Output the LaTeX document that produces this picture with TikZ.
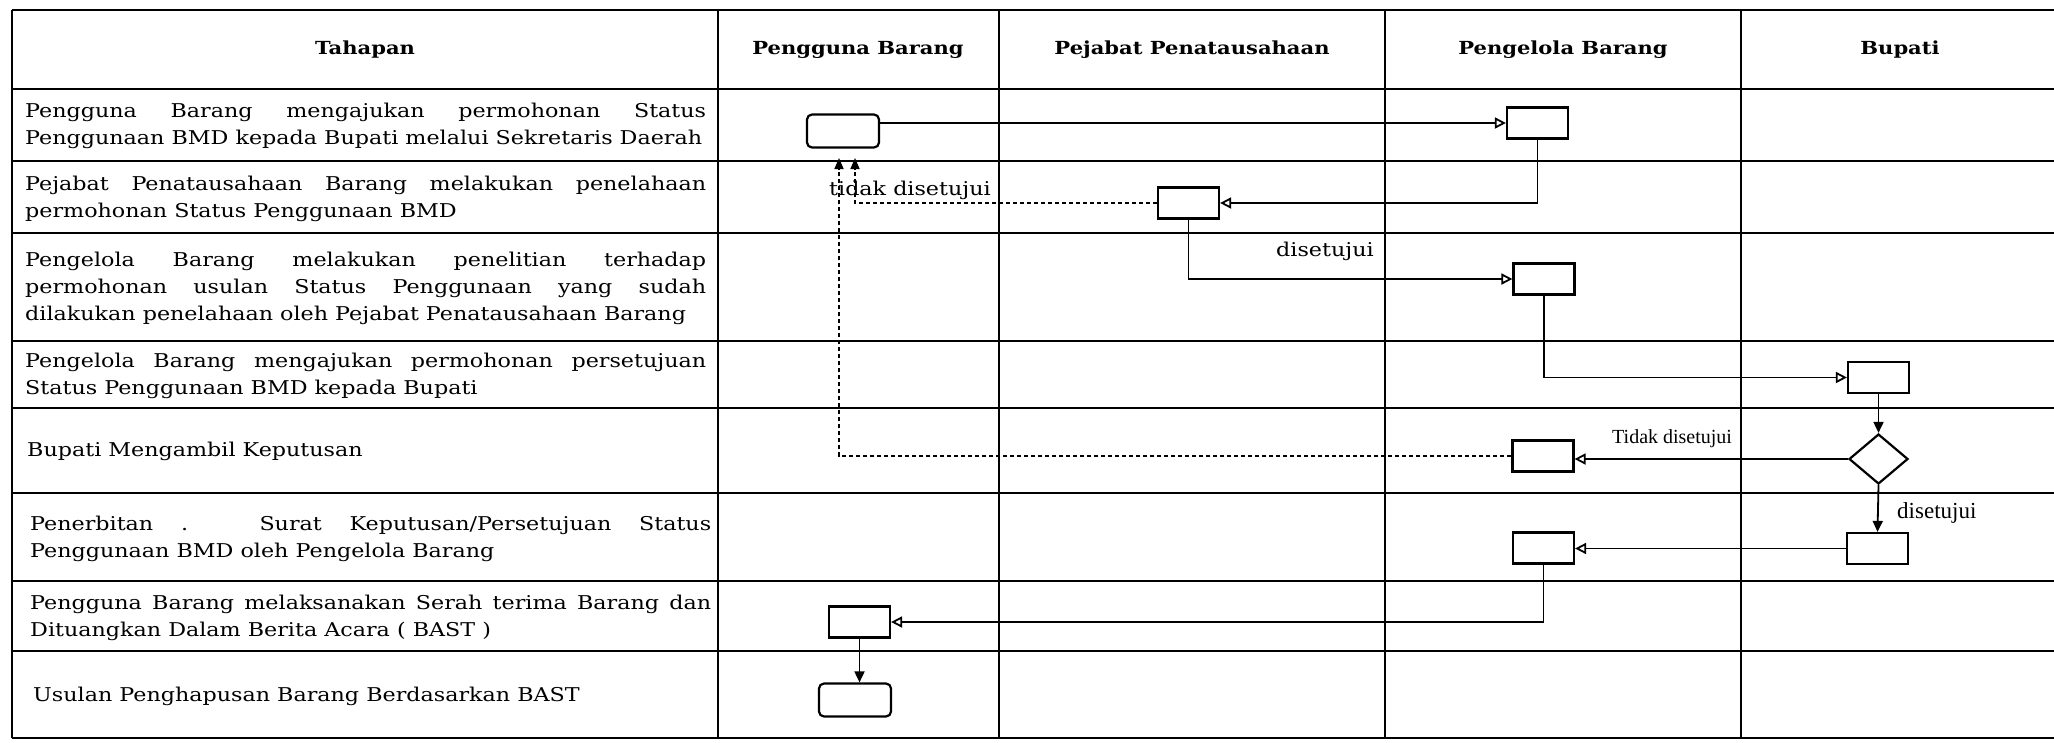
\documentclass[tikz,border=0pt]{standalone}
\usepackage{fontspec}
\setmainfont{DejaVu Serif}[FakeStretch=1.17]
\newfontfamily\libser{Liberation Serif}
\usetikzlibrary{arrows.meta,shapes.geometric}
\newcommand{\jln}[1]{{\parfillskip=0pt\relax #1\par}}
\begin{document}
\begin{tikzpicture}[x=1pt,y=-1pt,
  hrule/.style={line width=2.2pt},
  vrule/.style={line width=1.4pt},
  act/.style={draw,line width=2.2pt,minimum width=61pt,minimum height=31pt,inner sep=0pt},
  ract/.style={act,rounded corners=5pt,minimum width=72pt,minimum height=33pt},
  dec/.style={draw,diamond,line width=2.2pt,minimum width=59pt,minimum height=50pt,inner sep=0pt},
  flow/.style={line width=1.8pt,-{Triangle[open,length=11pt,width=11pt]}},
  vflow/.style={line width=1.8pt,-{Triangle[length=11pt,width=10pt]}},
  back/.style={line width=1.6pt,dash pattern=on 4pt off 3pt,-{Triangle[length=11pt,width=9pt]}},
  txt/.style={anchor=west,inner sep=0pt,text width=681pt,align=justify,font=\fontsize{19}{27}\selectfont},
  head/.style={inner sep=0pt,font=\fontsize{18}{20}\selectfont\bfseries},
  lbl/.style={inner sep=0pt,anchor=base west,font=\fontsize{19}{22}\selectfont},
  lbt/.style={inner sep=0pt,anchor=base west,font=\fontsize{20}{22}\selectfont\libser}
]
\useasboundingbox[fill=white] (0,0) rectangle (2054,742);

% table rules
\foreach \y in {10,89,161,233,341,408,493,581,651,738}
  \draw[hrule] (12,\y) -- (2054,\y);
\foreach \x in {12,718,999,1385,1741}
  \draw[vrule] (\x,10) -- (\x,738);

% headers
\node[head] (h0) at (365,50) {Tahapan};
\node[head] (h1) at (858,50) {Pengguna Barang};
\node[head] (h2) at (1192,50) {Pejabat Penatausahaan};
\node[head] (h3) at (1563,50) {Pengelola Barang};
\node[head] (h4) at (1900,50) {Bupati};

% tahapan texts
\node[txt] (t1) at (25,126) {\jln{Pengguna Barang mengajukan permohonan Status}Penggunaan BMD kepada Bupati melalui Sekretaris Daerah};
\node[txt] (t2) at (25,199) {\jln{Pejabat Penatausahaan Barang melakukan penelahaan}permohonan Status Penggunaan BMD};
\node[txt] (t3) at (25,288) {\jln{Pengelola Barang melakukan penelitian terhadap}\jln{permohonan usulan Status Penggunaan yang sudah}dilakukan penelahaan oleh Pejabat Penatausahaan Barang};
\node[txt] (t4) at (25,376) {\jln{Pengelola Barang mengajukan permohonan persetujuan}Status Penggunaan BMD kepada Bupati};
\node[txt] (t5) at (27,451) {Bupati Mengambil Keputusan};
\node[txt] (t6) at (30,539) {\jln{Penerbitan . Surat Keputusan/Persetujuan Status}Penggunaan BMD oleh Pengelola Barang};
\node[txt] (t7) at (30,618) {\jln{Pengguna Barang melaksanakan Serah terima Barang dan}Dituangkan Dalam Berita Acara ( BAST )};
\node[txt] (t8) at (33,696) {Usulan Penghapusan Barang Berdasarkan BAST};

% activity nodes
\node[ract] (pg1) at (843,131) {};
\node[act] (pl1) at (1537.5,123) {};
\node[act] (pj) at (1188.5,203) {};
\node[act] (pl2) at (1544,279) {};
\node[act] (bp1) at (1878.5,377.5) {};
\node[dec] (dia) at (1878.5,459) {};
\node[act] (pl3) at (1543,456) {};
\node[act] (bp2) at (1877.5,548.5) {};
\node[act] (pl4) at (1543.5,548) {};
\node[act] (pg2) at (859.5,622) {};
\node[ract] (pg3) at (855,700) {};

\coordinate (up1) at (839,158);
\coordinate (up2) at (855,158);

% connectors
\draw[flow] (pg1.east |- pl1.west) -- (pl1.west);
\draw[flow] (pl1.south) -- (pl1.south |- pj.east) -- (pj.east);
\draw[flow] (pj.south) -- (pj.south |- pl2.west) -- (pl2.west);
\draw[flow] (pl2.south) -- (pl2.south |- bp1.west) -- (bp1.west);
\draw[vflow] (bp1.south) -- (dia.north);
\draw[flow] (dia.west) -- (dia.west -| pl3.east);
\draw[vflow] (dia.south) -- (bp2.north);
\draw[flow] (bp2.west) -- (bp2.west -| pl4.east);
\draw[flow] (pl4.south) -- (pl4.south |- pg2.east) -- (pg2.east);
\draw[vflow] (pg2.south) -- (pg2.south |- pg3.north);
\draw[back] (pj.west) -- (pj.west -| up2) -- (up2);
\draw[back] (pl3.west) -- (pl3.west -| up1) -- (up1);

% labels
\node[lbl] (l1) at (829,195) {tidak disetujui};
\node[lbl] (l2) at (1276,256) {disetujui};
\node[lbt] (l3) at (1612,443) {Tidak disetujui};
\node[lbt,font=\fontsize{23}{25}\selectfont\libser] (l4) at (1897,518) {disetujui};
\end{tikzpicture}
\end{document}
